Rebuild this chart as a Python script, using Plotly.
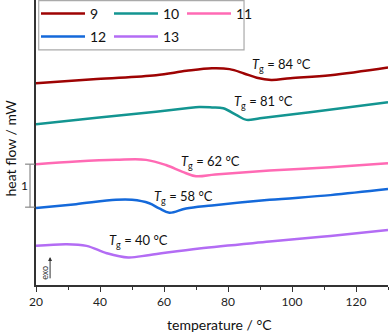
import plotly.graph_objects as go

# ---- data (temperature in °C, heat flow in mW, curves offset vertically) ----
t9 = [20, 39, 57.5, 67, 75, 80.5, 85, 89, 93.5, 99.5, 112, 130]
y9 = [4.69, 4.79, 4.88, 4.98, 5.04, 5.02, 4.92, 4.82, 4.77, 4.81, 4.88, 5.06]

t10 = [20, 39, 57.5, 67, 71, 75, 78.5, 82.7, 85.8, 90, 105.6, 130]
y10 = [3.74, 3.89, 4.03, 4.11, 4.14, 4.13, 4.11, 3.95, 3.84, 3.88, 4.02, 4.25]

t11 = [20, 32.5, 45, 54.4, 60.6, 65.8, 70, 76, 93, 112, 130]
y11 = [2.81, 2.87, 2.91, 2.91, 2.79, 2.63, 2.53, 2.57, 2.66, 2.74, 2.83]

t12 = [20, 32.5, 45, 50, 55.4, 58.5, 61.7, 66.9, 75, 93, 112, 130]
y12 = [1.79, 1.88, 1.98, 1.98, 1.90, 1.78, 1.68, 1.78, 1.85, 1.98, 2.09, 2.23]

t13 = [20, 29.6, 35.8, 42.1, 48.8, 55.6, 71, 93, 112, 130]
y13 = [0.91, 0.95, 0.91, 0.74, 0.64, 0.70, 0.85, 1.01, 1.14, 1.28]

names = ["9", "10", "11", "12", "13"]
colors = ["#9E0303", "#139591", "#FF6AB4", "#1469DA", "#B36CF4"]
tg_labels = ["84", "81", "62", "58", "40"]
tg_pos = [(86.9, 5.12), (81.2, 4.26), (64.6, 2.87), (56.25, 2.05), (42.3, 1.02)]

xticks = [20, 40, 60, 80, 100, 120]
scale_bar = (1.81, 2.81)  # 1 mW

FONT = "Lato"

fig = go.Figure()
series = [(t9, y9), (t10, y10), (t11, y11), (t12, y12), (t13, y13)]
for i, ((t, y), n, c) in enumerate(zip(series, names, colors)):
    fig.add_trace(go.Scatter(
        x=t, y=y, name=n, mode="lines",
        line=dict(color=c, width=2.5, shape="spline", smoothing=1.0),
        legend="legend" if i < 3 else "legend2",
    ))

annotations = []
for lab, (x, y) in zip(tg_labels, tg_pos):
    annotations.append(dict(
        x=x, y=y, xref="x", yref="y", xanchor="left", yanchor="middle",
        text=f"<i>T</i><sub>g</sub> = {lab} °C", showarrow=False,
        font=dict(family=FONT, size=13, color="#111"),
    ))

# axis titles
annotations.append(dict(x=0.52, y=-0.14, xref="paper", yref="paper",
                        text="temperature / °C", showarrow=False,
                        xanchor="center", yanchor="middle",
                        font=dict(family=FONT, size=14, color="#111")))
annotations.append(dict(x=-0.073, y=0.48, xref="paper", yref="paper",
                        text="heat flow / mW", showarrow=False, textangle=-90,
                        xanchor="center", yanchor="middle",
                        font=dict(family=FONT, size=14, color="#111")))
# scale bar label
annotations.append(dict(x=-0.034, y=sum(scale_bar) / 2, xref="paper", yref="y",
                        text="1", showarrow=False, xanchor="center", yanchor="middle",
                        font=dict(family=FONT, size=12, color="#111")))
# exo arrow
annotations.append(dict(x=24.4, y=0.65, ax=24.4, ay=0.12, xref="x", yref="y",
                        axref="x", ayref="y", text="", showarrow=True,
                        arrowhead=2, arrowsize=0.8, arrowwidth=1, arrowcolor="#333"))
annotations.append(dict(x=22.6, y=0.29, xref="x", yref="y", text="exo",
                        showarrow=False, textangle=-90, xanchor="center", yanchor="middle",
                        font=dict(family=FONT, size=9, color="#333")))

shapes = [
    # legend box
    dict(type="rect", xref="paper", yref="paper", x0=0.0077, x1=0.591,
         y0=0.825, y1=0.998, line=dict(color="#AAAAAA", width=1.2),
         fillcolor="white", layer="above"),
    # scale bar
    dict(type="line", xref="paper", yref="y", x0=-0.017, x1=-0.017,
         y0=scale_bar[0], y1=scale_bar[1], line=dict(color="#888", width=1.2)),
    dict(type="line", xref="paper", yref="y", x0=-0.031, x1=-0.003,
         y0=scale_bar[0], y1=scale_bar[0], line=dict(color="#888", width=1.2)),
    dict(type="line", xref="paper", yref="y", x0=-0.031, x1=-0.003,
         y0=scale_bar[1], y1=scale_bar[1], line=dict(color="#888", width=1.2)),
]

leg_common = dict(orientation="h", xanchor="left", yanchor="top",
                  bgcolor="rgba(0,0,0,0)", borderwidth=0,
                  font=dict(family=FONT, size=14, color="#111"),
                  itemwidth=44, entrywidth=14, entrywidthmode="pixels",
                  tracegroupgap=0, itemclick=False)

fig.update_layout(
    width=390, height=334,
    margin=dict(l=36, r=2, t=0, b=49, autoexpand=False),
    plot_bgcolor="white", paper_bgcolor="white",
    showlegend=True,
    legend=dict(x=0.0, y=1 + 2 / 285, **leg_common),
    legend2=dict(x=0.0, y=1 - 21 / 285, **leg_common),
    xaxis=dict(range=[20, 130], tickvals=xticks, ticks="outside", ticklen=5,
               tickwidth=1.2, tickcolor="#333", showline=True, linecolor="#333",
               linewidth=1.5, showgrid=False, zeroline=False,
               tickfont=dict(family=FONT, size=12, color="#222"),
               minor=dict(dtick=10, tick0=0, ticks="outside", ticklen=3,
                          tickcolor="#333", tickwidth=1.2, showgrid=False)),
    yaxis=dict(range=[0, 6.628], showticklabels=False, ticks="", showline=True,
               linecolor="#333", linewidth=1.5, showgrid=False, zeroline=False),
    annotations=annotations,
    shapes=shapes,
)

fig.write_html("out.html")
